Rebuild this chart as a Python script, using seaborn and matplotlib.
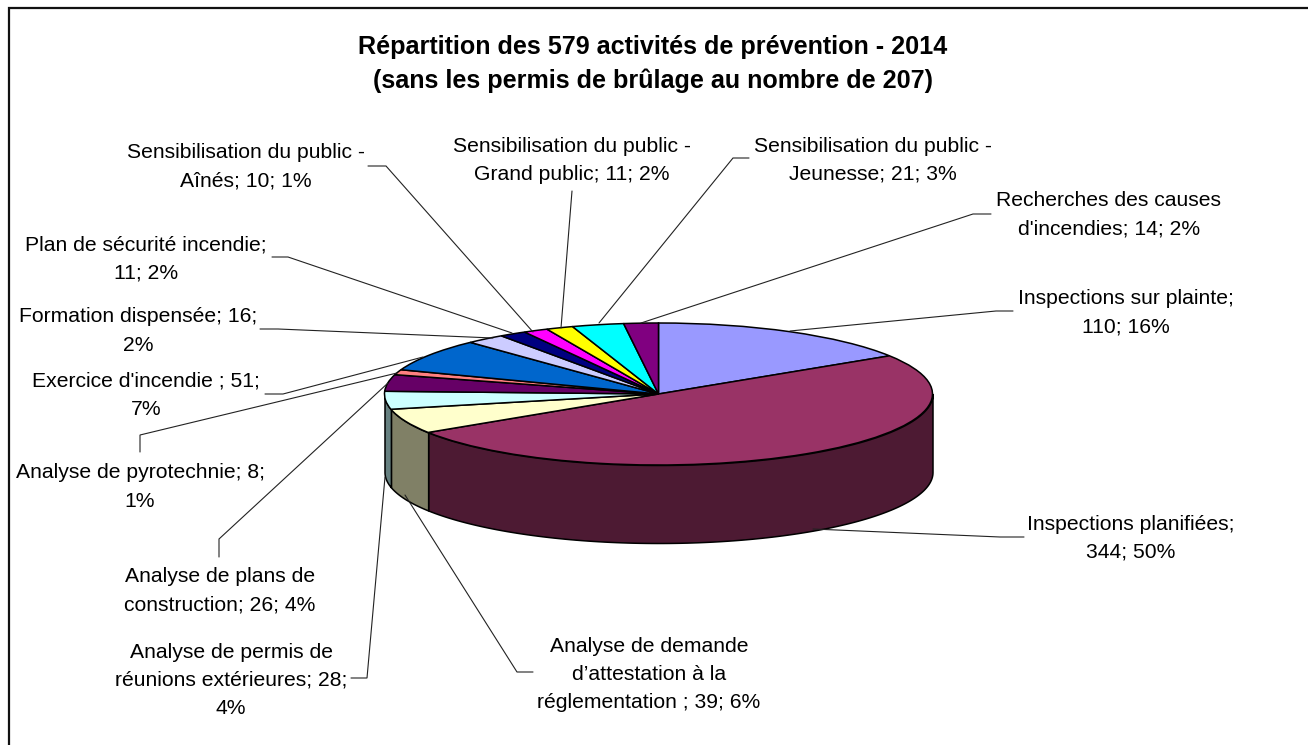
import numpy as np
import matplotlib
matplotlib.use("Agg")
import matplotlib.pyplot as plt
import seaborn as sns

# Preventive activities, clockwise from twelve o'clock
activity_values = [110, 344, 39, 28, 26, 8, 51, 16, 11, 10, 11, 21, 14]
activity_labels = [
    "Inspections sur plainte;\n{v}; {p}%",
    "Inspections planifiées;\n{v}; {p}%",
    "Analyse de demande\nd’attestation à la\nréglementation ; {v}; {p}%",
    "Analyse de permis de\nréunions extérieures; {v};\n{p}%",
    "Analyse de plans de\nconstruction; {v}; {p}%",
    "Analyse de pyrotechnie; {v};\n{p}%",
    "Exercice d'incendie ; {v};\n{p}%",
    "Formation dispensée; {v};\n{p}%",
    "Plan de sécurité incendie;\n{v}; {p}%",
    "Sensibilisation du public -\nAînés; {v}; {p}%",
    "Sensibilisation du public -\nGrand public; {v}; {p}%",
    "Sensibilisation du public -\nJeunesse; {v}; {p}%",
    "Recherches des causes\nd'incendies; {v}; {p}%",
]
top_colors = ["#9999FF", "#993366", "#FFFFCC", "#CCFFFF", "#660066", "#FF8080", "#0066CC",
              "#CCCCFF", "#000080", "#FF00FF", "#FFFF00", "#00FFFF", "#800080"]
title_text = "Répartition des 579 activités de prévention - 2014\n(sans les permis de brûlage au nombre de 207)"

# Label centre (x, y of first line) and leader polyline, in pixels
label_anchor = [(1126, 299), (1131, 524), (649, 646), (231, 652), (220, 577), (140, 473), (146, 381),
                (138, 317), (146, 245), (246, 153), (572, 146), (873, 146), (1109, 201)]
leader_paths = [
    [(1013, 311), (996, 311), (790, 331)],
    [(1024, 537), (1000, 537), (813, 529)],
    [(533, 672), (517, 672), (405, 495)],
    [(351, 678), (367, 678), (385, 477)],
    [(219, 557), (219, 539), (388, 383)],
    [(140, 452), (140, 435), (397, 373)],
    [(265, 394), (283, 394), (423, 357)],
    [(260, 329), (278, 329), (493, 338)],
    [(272, 257), (288, 257), (512, 333)],
    [(368, 166), (386, 166), (533, 332)],
    [(572, 191), (561, 328)],
    [(749, 158), (733, 158), (599, 323)],
    [(991, 214), (973, 214), (641, 323)],
]

W, H = 1308, 745
CX, CY, RX, RY, DEPTH = 658.5, 394, 274, 71, 78

sns.set_theme(style="white")
plt.rcParams["font.family"] = ["Liberation Sans", "DejaVu Sans"]
palette = sns.color_palette(top_colors)
shaded = [tuple(0.5 * c for c in col) for col in palette]

fig = plt.figure(figsize=(W / 100, H / 100), dpi=100, facecolor="white")

# Overlay in pixel coordinates for frame, title, leaders and labels
page = fig.add_axes([0, 0, 1, 1], zorder=3)
page.set_xlim(0, W)
page.set_ylim(H, 0)
page.axis("off")
page.patch.set_alpha(0)

# The pie's unit circle is squashed to an ellipse by the axes box itself
ax = fig.add_axes([(CX - RX) / W, (H - CY - RY) / H, 2 * RX / W, 2 * RY / H], zorder=2)
ax.pie(activity_values, colors=palette, startangle=90, counterclock=False, radius=1,
       wedgeprops={"edgecolor": "black", "linewidth": 1.1, "clip_on": False, "zorder": 3})
ax.set_aspect("auto")
ax.set_xlim(-1, 1)
ax.set_ylim(-1, 1)
ax.axis("off")

# Cylinder wall: only the front half of each slice is visible
values = np.asarray(activity_values, dtype=float)
edges = np.concatenate([[0], np.cumsum(values)]) / values.sum() * 2 * np.pi
drop = DEPTH / RY
for start, stop, shade in zip(edges[:-1], edges[1:], shaded):
    lo, hi = max(start, np.pi / 2), min(stop, 3 * np.pi / 2)
    if hi <= lo:
        continue
    t = np.linspace(lo, hi, 120)
    ax.fill_between(np.sin(t), np.cos(t), np.cos(t) - drop, facecolor=shade, edgecolor="black",
                    linewidth=1.1, clip_on=False, zorder=1)

# Chart border: only its top and left sides fall inside the page
page.plot([9, 9, W], [H, 8, 8], color="#111111", lw=1.6, solid_joinstyle="miter")

lines = title_text.split("\n")
for line, y in zip(lines, (47, 81)):
    page.text(653, y, line, ha="center", va="center", fontsize=18.1, fontweight="bold", color="black")

total = values.sum()
LINE_STEP = 28.3
for tpl, val, (x, y), path in zip(activity_labels, activity_values, label_anchor, leader_paths):
    text = tpl.format(v=val, p=round(100 * val / total))
    for k, line in enumerate(text.split("\n")):
        page.text(x, y + k * LINE_STEP, line, ha="center", va="center", fontsize=15.2, color="black")
    xs, ys = zip(*path)
    page.plot(xs, ys, color="#222222", lw=0.8, solid_joinstyle="miter")

fig.savefig("out.png", dpi=100)
